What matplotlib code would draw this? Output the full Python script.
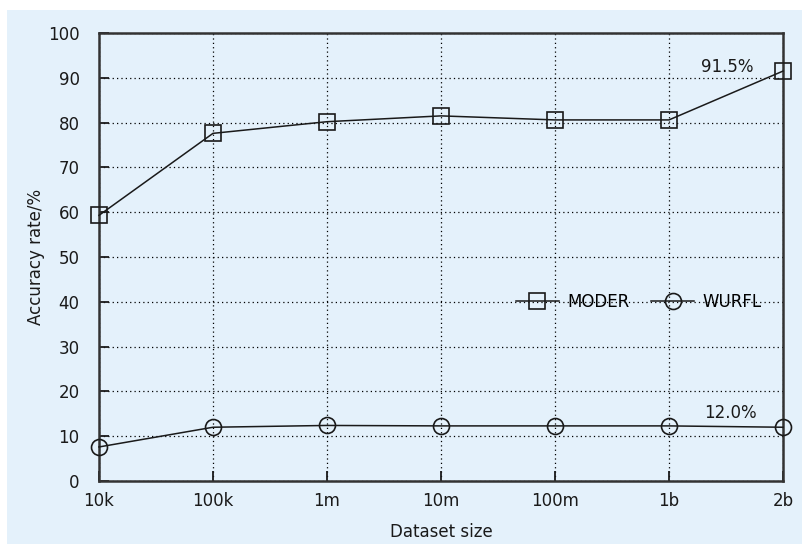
import matplotlib
matplotlib.use("Agg")
import matplotlib.pyplot as plt
from matplotlib.patches import Rectangle

# data
sizes = ["10k", "100k", "1m", "10m", "100m", "1b", "2b"]
moder = [59.3, 77.6, 80.2, 81.5, 80.6, 80.6, 91.5]
wurfl = [7.6, 12.0, 12.4, 12.3, 12.3, 12.3, 12.0]
y_ticks = [0, 10, 20, 30, 40, 50, 60, 70, 80, 90, 100]

BG = "#e4f1fb"
INK = "#1a1a1a"

fig = plt.figure(figsize=(8.02, 5.44), dpi=100)
fig.patch.set_facecolor("white")
# light blue panel, with the thin white margin at the top/left of the original
panel = Rectangle((7 / 802, 0), 1 - 7 / 802, 1 - 10 / 544,
                  transform=fig.transFigure, facecolor=BG,
                  edgecolor="none", zorder=-10)
fig.add_artist(panel)

ax = fig.add_axes([99 / 802, 1 - 481 / 544, (783 - 99) / 802, (481 - 33) / 544])
ax.set_facecolor(BG)
ax.set_zorder(1)

x = list(range(len(sizes)))
ax.plot(x, moder, color=INK, lw=1.1, marker="s", ms=11.5, mfc="none",
        mec=INK, mew=1.2, label="MODER", clip_on=False, zorder=3)
ax.plot(x, wurfl, color=INK, lw=1.1, marker="o", ms=11.5, mfc="none",
        mec=INK, mew=1.2, label="WURFL", clip_on=False, zorder=3)

ax.set_xlim(0, len(sizes) - 1)
ax.set_ylim(0, 100)
ax.set_xticks(x)
ax.set_xticklabels(sizes)
ax.set_yticks(y_ticks)
ax.grid(True, color="black", linestyle=(0, (1, 2.5)), linewidth=0.9)
ax.tick_params(direction="in", length=7, width=1.3, colors=INK,
               labelsize=12)
ax.tick_params(axis="y", pad=14)
ax.tick_params(axis="x", pad=8)
for s in ax.spines.values():
    s.set_linewidth(1.8)
    s.set_color("#333333")

ax.set_xlabel("Dataset size", fontsize=12, color=INK, labelpad=9)
ax.set_ylabel("Accuracy rate/%", fontsize=12, color=INK, labelpad=2)

ax.text(5.74, 92.4, f"{moder[-1]:.1f}%", fontsize=12, color=INK,
        ha="right", va="center")
ax.text(5.77, 15.2, f"{wurfl[-1]:.1f}%", fontsize=12, color=INK,
        ha="right", va="center")

ax.legend(loc="center left", bbox_to_anchor=(0.587, 0.4), ncol=2,
          frameon=False, fontsize=12, handlelength=2.6, columnspacing=1.3,
          handletextpad=0.5)

fig.savefig("out.png", dpi=100, facecolor=fig.get_facecolor())
